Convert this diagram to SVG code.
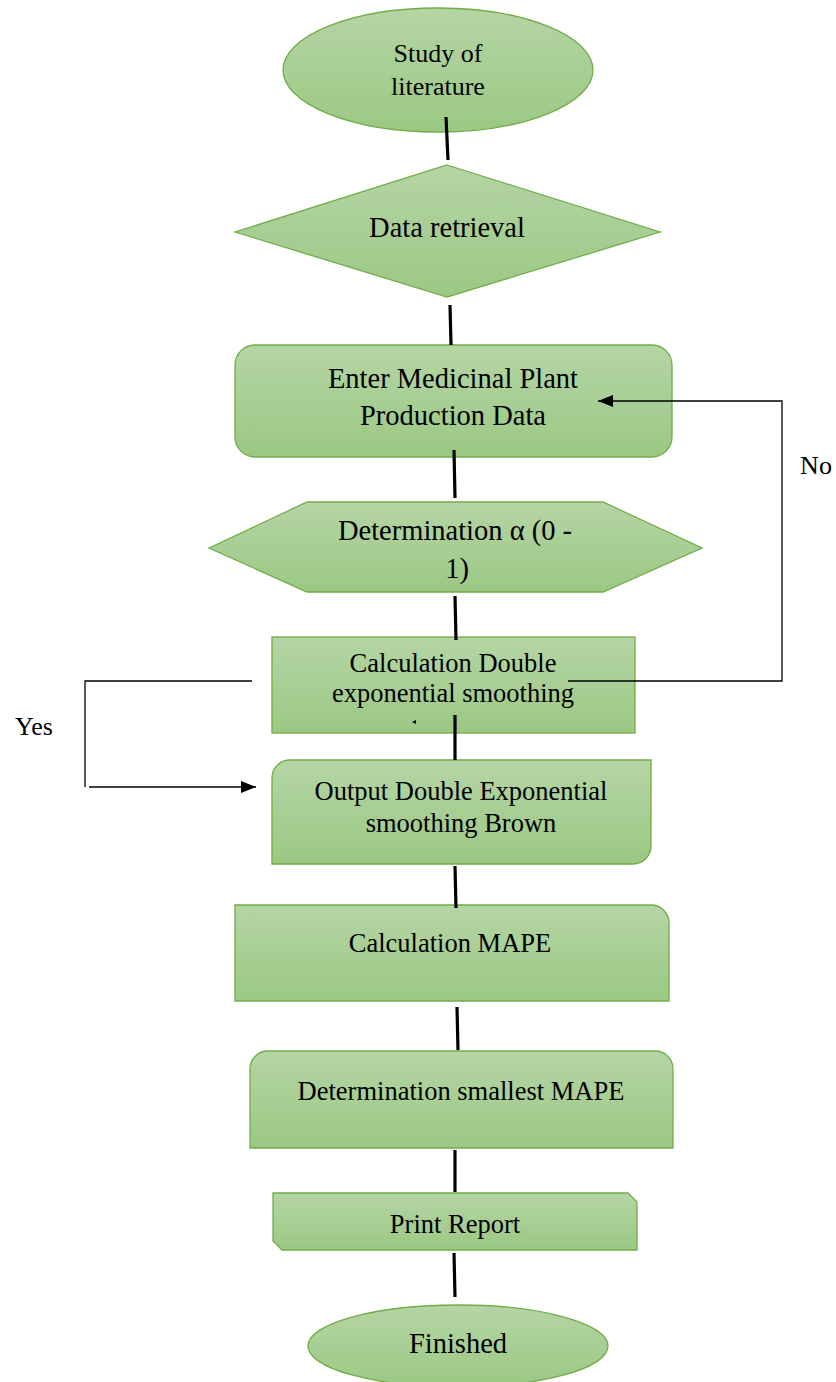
<svg xmlns="http://www.w3.org/2000/svg" width="836" height="1382" viewBox="0 0 836 1382">
<style>
.n{fill:url(#g);stroke:#70ad47;stroke-width:1.3}
.t{font-family:"Liberation Serif","Times New Roman",serif;fill:#000;text-anchor:middle}
.c{stroke:#000;stroke-width:3.2;fill:none}
.l{stroke:#000;stroke-width:1.3;fill:none}
</style>
<defs>
<linearGradient id="g" x1="0" y1="0" x2="0" y2="1">
<stop offset="0" stop-color="#b5d5a5"/>
<stop offset="1" stop-color="#9bc883"/>
</linearGradient>
<marker id="a" markerUnits="userSpaceOnUse" markerWidth="15" markerHeight="12" viewBox="0 0 15 12" refX="15" refY="6" orient="auto">
<path d="M0,0 L15,6 L0,12 Z" fill="#000"/>
</marker>
</defs>
<rect width="836" height="1382" fill="#fff"/>
<g id="study">
<ellipse class="n" cx="438" cy="70" rx="155" ry="62"/>
<text class="t" x="438" y="62" font-size="26">Study of</text>
<text class="t" x="438" y="94.5" font-size="26">literature</text>
</g>
<g id="retrieval">
<polygon class="n" points="447,165 660,232 447,297 235,232"/>
<text class="t" x="447" y="237" font-size="28.5">Data retrieval</text>
</g>
<g id="enter">
<rect class="n" x="235" y="345" width="437" height="112" rx="20"/>
<text class="t" x="453" y="388" font-size="28.5">Enter Medicinal Plant</text>
<text class="t" x="453" y="425" font-size="28.5">Production Data</text>
</g>
<g id="alpha">
<polygon class="n" points="209,548 307,502 603,502 702,548 603,592 307,592"/>
<text class="t" x="455" y="540" font-size="28.5">Determination α (0 -</text>
<text class="t" x="457" y="578" font-size="28.5">1)</text>
</g>
<g id="calcdouble">
<rect class="n" x="272" y="637" width="363" height="96"/>
<text class="t" x="453" y="672" font-size="26.5">Calculation Double</text>
<text class="t" x="453" y="702" font-size="26.5">exponential smoothing</text>
<polygon points="412,722 416,720 416,724" fill="#000"/>
</g>
<g id="output">
<path class="n" d="M290,760 H651 V846 A18,18 0 0 1 633,864 H272 V778 A18,18 0 0 1 290,760 Z"/>
<text class="t" x="461" y="800" font-size="26.5">Output Double Exponential</text>
<text class="t" x="461" y="832" font-size="26.5">smoothing Brown</text>
</g>
<g id="mape">
<path class="n" d="M235,905 H651 A18,18 0 0 1 669,923 V1001 H235 Z"/>
<text class="t" x="450" y="952" font-size="26.5">Calculation MAPE</text>
</g>
<g id="smallest">
<path class="n" d="M268,1051 H655 A18,18 0 0 1 673,1069 V1148 H250 V1069 A18,18 0 0 1 268,1051 Z"/>
<text class="t" x="461" y="1100" font-size="26.5">Determination smallest MAPE</text>
</g>
<g id="print">
<path class="n" d="M273,1193 H628 L637,1202 V1250 H282 L273,1241 Z"/>
<text class="t" x="455" y="1233" font-size="26.5">Print Report</text>
</g>
<g id="finished">
<ellipse class="n" cx="458" cy="1346" rx="150" ry="41"/>
<text class="t" x="458" y="1353" font-size="28.5">Finished</text>
</g>
<g id="connectors">
<line class="c" x1="446" y1="117" x2="448" y2="160"/>
<line class="c" x1="450" y1="305" x2="451" y2="345"/>
<line class="c" x1="454" y1="450" x2="455" y2="498"/>
<line class="c" x1="455" y1="596" x2="456" y2="640"/>
<line class="c" x1="455" y1="715" x2="455" y2="760"/>
<line class="c" x1="455" y1="866" x2="456" y2="908"/>
<line class="c" x1="457" y1="1007" x2="458" y2="1050"/>
<line class="c" x1="455" y1="1150" x2="455" y2="1192"/>
<line class="c" x1="454" y1="1253" x2="455" y2="1297"/>
<polyline class="l" points="568,681 782,681 782,401 598,401" marker-end="url(#a)"/>
<polyline class="l" points="252,681 85,681 85,787"/>
<line class="l" x1="89" y1="787" x2="256" y2="787" marker-end="url(#a)"/>
<text class="t" x="816" y="474" font-size="26">No</text>
<text class="t" x="34" y="735" font-size="26">Yes</text>
</g>
</svg>
